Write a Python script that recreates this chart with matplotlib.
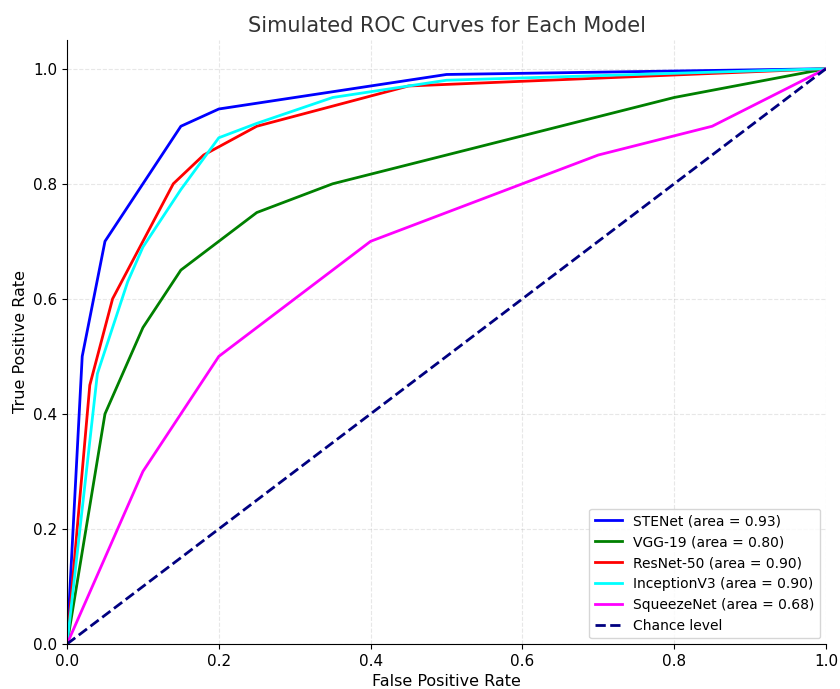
import numpy as np
import matplotlib
matplotlib.use("Agg")
import matplotlib.pyplot as plt

# ROC points
stenet_fpr = [0.0, 0.02, 0.05, 0.15, 0.20, 0.50, 1.0]
stenet_tpr = [0.0, 0.50, 0.70, 0.90, 0.93, 0.99, 1.0]

vgg_fpr = [0.0, 0.05, 0.10, 0.15, 0.25, 0.35, 0.80, 1.0]
vgg_tpr = [0.0, 0.40, 0.55, 0.65, 0.75, 0.80, 0.95, 1.0]

resnet_fpr = [0.0, 0.03, 0.06, 0.14, 0.18, 0.25, 0.45, 1.0]
resnet_tpr = [0.0, 0.45, 0.60, 0.80, 0.85, 0.90, 0.97, 1.0]

incep_fpr = [0.0, 0.04, 0.08, 0.10, 0.15, 0.20, 0.25, 0.35, 0.50, 1.0]
incep_tpr = [0.0, 0.47, 0.63, 0.69, 0.79, 0.88, 0.905, 0.95, 0.98, 1.0]

squeeze_fpr = [0.0, 0.10, 0.20, 0.40, 0.70, 0.85, 1.0]
squeeze_tpr = [0.0, 0.30, 0.50, 0.70, 0.85, 0.90, 1.0]

chance = [0.0, 1.0]

labels = ["STENet (area = 0.93)", "VGG-19 (area = 0.80)",
          "ResNet-50 (area = 0.90)", "InceptionV3 (area = 0.90)",
          "SqueezeNet (area = 0.68)"]
colors = ["blue", "green", "red", "cyan", "magenta"]

curves = [(stenet_fpr, stenet_tpr), (vgg_fpr, vgg_tpr),
          (resnet_fpr, resnet_tpr), (incep_fpr, incep_tpr),
          (squeeze_fpr, squeeze_tpr)]

fig = plt.figure(figsize=(8.4, 6.89), dpi=100)
ax = fig.add_axes([0.0798, 0.0653, 0.9035, 0.8767])

for (x, y), lab, c in zip(curves, labels, colors):
    ax.plot(x, y, color=c, lw=2, label=lab)
ax.plot(chance, chance, color="navy", lw=2, linestyle="--", label="Chance level")

ax.set_xlim(0.0, 1.0)
ax.set_ylim(0.0, 1.05)
ax.set_xticks(np.arange(0, 1.01, 0.2))
ax.set_yticks(np.arange(0, 1.01, 0.2))
ax.tick_params(labelsize=11)
ax.set_xlabel("False Positive Rate", fontsize=11.5)
ax.set_ylabel("True Positive Rate", fontsize=11.5)
ax.set_title("Simulated ROC Curves for Each Model", fontsize=15, color="#333333")
ax.grid(True, linestyle="--", alpha=0.3)
ax.spines["top"].set_visible(False)
ax.spines["right"].set_visible(False)
ax.legend(loc="lower right", fontsize=10, borderaxespad=0.4)

fig.savefig("out.png", dpi=100)
